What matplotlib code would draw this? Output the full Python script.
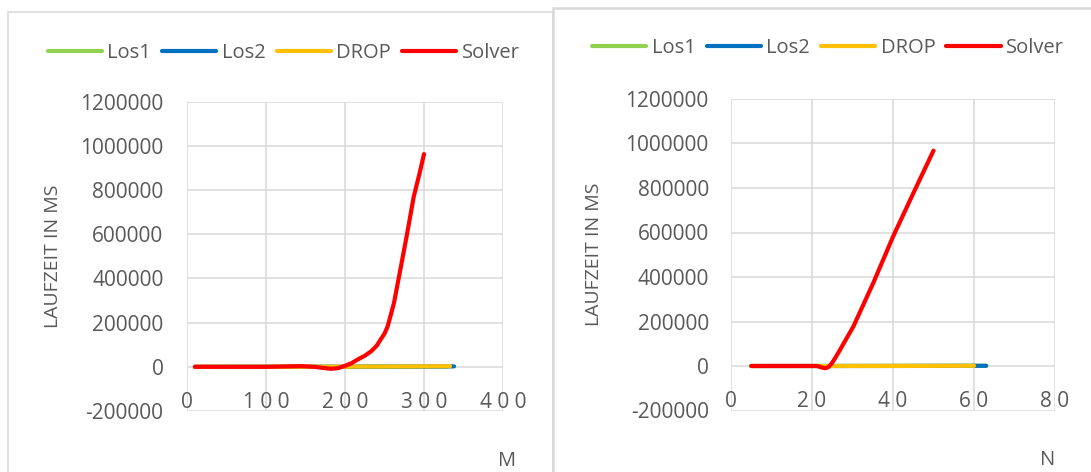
import matplotlib
matplotlib.use("Agg")
import matplotlib.pyplot as plt
from matplotlib.patches import Rectangle
from matplotlib.ticker import FuncFormatter

plt.rcParams['font.family'] = ['Open Sans', 'DejaVu Sans']

W, H = 1091, 472
GRAY = '#595959'
GRID = '#d9d9d9'

names = ['Los1', 'Los2', 'DROP', 'Solver']
colors = ['#92d050', '#0070c0', '#ffc000', '#ff0000']

# left chart: runtime over M
m_los1 = [10, 50, 100, 150, 200, 250, 300, 330]
t_los1 = [0, 10, 40, 120, 300, 600, 1100, 1500]
m_los2 = [10, 50, 100, 150, 200, 250, 300, 338]
t_los2 = [0, 15, 60, 180, 420, 850, 1500, 2100]
m_drop = [10, 50, 100, 150, 200, 250, 300, 333]
t_drop = [0, 20, 80, 250, 600, 1200, 2200, 3000]
m_solver = [10, 50, 100, 144, 161, 172, 182, 191, 199, 208, 216, 225, 233, 240,
            245, 250, 254, 262, 270, 278, 287, 294, 300]
t_solver = [0, 0, 0, 3000, 0, -5000, -9000, -6000, 3000, 16000, 33000, 50000,
            70000, 95000, 123000, 150000, 183000, 289000, 439000, 590000, 770000,
            870000, 963000]

# right chart: runtime over N
n_los1 = [5, 10, 20, 30, 40, 50, 60, 63]
u_los1 = [0, 5, 30, 90, 200, 400, 700, 800]
n_los2 = [5, 10, 20, 30, 40, 50, 60, 63]
u_los2 = [0, 8, 40, 120, 260, 500, 850, 1000]
n_drop = [5, 10, 20, 30, 40, 50, 60]
u_drop = [0, 10, 50, 150, 320, 600, 1000]
n_solver = [5, 10, 15, 20, 21.2, 22.3, 23.2, 24.0, 24.8, 25.8, 26.9, 28.4, 30.2,
            35.1, 40, 45, 50]
u_solver = [0, 0, 0, 0, 0, -6000, -10000, -6000, 10000, 38000, 72000, 120000,
            177000, 372000, 581000, 776000, 968000]

fig = plt.figure(figsize=(W / 100, H / 100), dpi=100)

# chart frames
fig.patches.append(Rectangle((8 / W, -0.1), (553 - 8) / W, 1.1 - 12 / H,
                             transform=fig.transFigure, fill=False,
                             edgecolor=GRID, lw=1.2))
fig.patches.append(Rectangle((553 / W, -0.1), 0.6, 1.1 - 8 / H,
                             transform=fig.transFigure, fill=False,
                             edgecolor=GRID, lw=1.8))


def px_axes(x0, x1, y0, y1):
    return fig.add_axes([x0 / W, 1 - y1 / H, (x1 - x0) / W, (y1 - y0) / H])


def spaced(v, pos):
    return ' '.join(str(int(v)))


def plain(v, pos):
    return str(int(v))


def style(ax, xmax, xstep, ypad):
    ax.set_xlim(0, xmax)
    ax.set_ylim(-200000, 1200000)
    ax.set_xticks(range(0, xmax + 1, xstep))
    ax.set_yticks(range(-200000, 1200001, 200000))
    ax.xaxis.set_major_formatter(FuncFormatter(spaced))
    ax.yaxis.set_major_formatter(FuncFormatter(plain))
    ax.grid(True, color=GRID, lw=1.1)
    ax.set_axisbelow(True)
    for s in ax.spines.values():
        s.set_visible(False)
    ax.spines['bottom'].set_position(('data', 0))
    ax.tick_params(axis='both', length=0, colors=GRAY, labelsize=15)
    ax.tick_params(axis='x', pad=18)
    ax.tick_params(axis='y', pad=ypad)


def draw(ax, series):
    for (x, y), c, n in zip(series, colors, names):
        ax.plot(x, y, color=c, lw=3, label=n, solid_capstyle='round',
                solid_joinstyle='round', clip_on=False)


ax1 = px_axes(187, 503, 101.7, 411)
style(ax1, 400, 100, 17)
draw(ax1, [(m_los1, t_los1), (m_los2, t_los2), (m_drop, t_drop), (m_solver, t_solver)])
ax1.set_ylabel('LAUFZEIT IN MS', color=GRAY, fontsize=14)
ax1.yaxis.set_label_coords((62 - 187) / (503 - 187), 0.5)
fig.text(507 / W, 1 - 461 / H, 'M', color=GRAY, fontsize=14.5, ha='center', va='center')

ax2 = px_axes(731, 1055, 99, 410.5)
style(ax2, 80, 20, 16)
draw(ax2, [(n_los1, u_los1), (n_los2, u_los2), (n_drop, u_drop), (n_solver, u_solver)])
ax2.set_ylabel('LAUFZEIT IN MS', color=GRAY, fontsize=14)
ax2.yaxis.set_label_coords((603 - 731) / (1055 - 731), 0.5)
fig.text(1048 / W, 1 - 460 / H, 'N', color=GRAY, fontsize=14.5, ha='center', va='center')

for ax, cx, cy in [(ax1, 283.5, 52.6), (ax2, 828, 47.6)]:
    leg = ax.legend(loc='center', bbox_to_anchor=(cx / W, 1 - cy / H),
                    bbox_transform=fig.transFigure, ncol=4, frameon=False,
                    fontsize=14.5, handlelength=2.7, handletextpad=0.26,
                    columnspacing=0.55, borderpad=0, borderaxespad=0)
    for t in leg.get_texts():
        t.set_color(GRAY)

fig.savefig('out.png', dpi=100)
